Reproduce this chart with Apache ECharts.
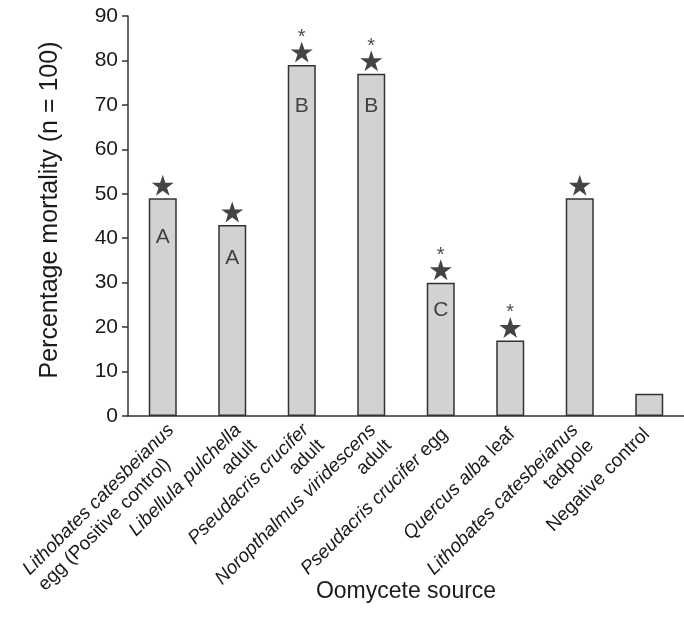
<!DOCTYPE html>
<html>
<head>
<meta charset="utf-8">
<title>Oomycete source mortality</title>
<script src="https://cdn.jsdelivr.net/npm/echarts@6/dist/echarts.min.js"></script>
<style>
  html, body { margin: 0; padding: 0; background: #fff; }
  #chart { width: 684px; height: 625px; }
</style>
</head>
<body>
<div id="chart"></div>
<script>
// species part (italic) and the plain part of each label
const speciesNames = ['Lithobates catesbeianus', 'Libellula pulchella', 'Pseudacris crucifer', 'Noropthalmus viridescens', 'Pseudacris crucifer', 'Quercus alba', 'Lithobates catesbeianus', '']
const plainNames = ['\negg (Positive control)', '\nadult', '\nadult', '\nadult', ' egg', ' leaf', '\ntadpole', 'Negative control']
const mortality = [49, 43, 79, 77, 30, 17, 49, 5]
const hasStar = [1, 1, 1, 1, 1, 1, 1, 0]
const hasAsterisk = [0, 0, 1, 1, 1, 1, 0, 0]
const groupLetters = ['A', 'A', 'B', 'B', 'C', '', '', '']
const letterPos = [40.3, 35.5, 69.8, 69.8, 23.9, null, null, null]
const yTicks = [0, 10, 20, 30, 40, 50, 60, 70, 80, 90]

const FONT = "'Liberation Sans', Arial, Helvetica, sans-serif"
const TEXT = '#1a1a1a'
const STAR = 'path://M50,0 L61.8,35.1 L98.9,35.1 L68.9,56.8 L80.3,91.9 L50,70.2 L19.7,91.9 L31.1,56.8 L1.1,35.1 L38.2,35.1 Z'

const categories = speciesNames.map((s, i) => s + plainNames[i])

function labelText(val, i) {
  // first label is left aligned in the original, the rest right aligned
  const suffix = i === 0 ? 'L' : ''
  const sp = speciesNames[i] ? '{i' + suffix + '|' + speciesNames[i] + '}' : ''
  const parts = plainNames[i].split('\n')
  if (parts.length > 1) return sp + '\n{n' + suffix + '|' + parts[1] + '}'
  // one-line labels get a short blank line so they sit like the others
  return sp + '{n|' + parts[0] + '}\n{gap| }'
}

const chart = echarts.init(document.getElementById('chart'))

const option = {
  animation: false,
  textStyle: { fontFamily: FONT },
  grid: [
    { left: 128, top: 16, width: 560, height: 400 },
    // second grid only carries the rotated category labels, nudged right
    { left: 145, top: 16, width: 560, height: 400 }
  ],
  xAxis: [
    {
      type: 'category',
      gridIndex: 0,
      data: categories,
      name: 'Oomycete source',
      nameLocation: 'middle',
      nameGap: 164,
      nameTextStyle: { fontSize: 23, color: TEXT, fontFamily: FONT },
      axisLine: { lineStyle: { color: '#333', width: 1.5 } },
      axisTick: { show: false },
      axisLabel: { show: false }
    },
    {
      type: 'category',
      gridIndex: 1,
      data: categories,
      axisLine: { show: false },
      axisTick: { show: false },
      axisLabel: {
        interval: 0,
        rotate: 45,
        margin: 19,
        formatter: labelText,
        rich: {
          i: { fontStyle: 'italic', fontSize: 19, color: TEXT, fontFamily: FONT, lineHeight: 22 },
          n: { fontSize: 19, color: TEXT, fontFamily: FONT, lineHeight: 22 },
          iL: { fontStyle: 'italic', fontSize: 19, color: TEXT, fontFamily: FONT, lineHeight: 22, align: 'left' },
          nL: { fontSize: 19, color: TEXT, fontFamily: FONT, lineHeight: 22, align: 'left' },
          gap: { fontSize: 6, lineHeight: 10 }
        }
      }
    }
  ],
  yAxis: [
    {
      type: 'value',
      gridIndex: 0,
      min: yTicks[0],
      max: yTicks[yTicks.length - 1],
      interval: 10,
      name: 'Percentage mortality (n = 100)',
      nameLocation: 'middle',
      nameGap: 65,
      nameTextStyle: { fontSize: 25, color: TEXT, fontFamily: FONT, padding: [0, 0, 0, 12] },
      axisLine: { show: true, lineStyle: { color: '#333', width: 1.5 } },
      axisTick: { show: true, length: 6, lineStyle: { color: '#333', width: 1.5 } },
      axisLabel: { fontSize: 21, color: TEXT, margin: 10 },
      splitLine: { show: false }
    },
    { type: 'value', gridIndex: 1, min: 0, max: 90, show: false }
  ],
  series: [
    {
      type: 'bar',
      xAxisIndex: 0,
      yAxisIndex: 0,
      data: mortality,
      barWidth: 28,
      itemStyle: { color: '#d1d2d4', borderColor: '#333', borderWidth: 1.5 },
      z: 2
    },
    {
      type: 'scatter',
      xAxisIndex: 0,
      yAxisIndex: 0,
      data: mortality.map((v, i) => (hasStar[i] ? v : null)),
      symbol: STAR,
      symbolSize: [22, 21],
      symbolOffset: [0, -13],
      itemStyle: { color: '#151515' },
      label: {
        show: true,
        position: 'top',
        distance: -6,
        fontSize: 20,
        color: TEXT,
        formatter: (p) => (hasAsterisk[p.dataIndex] ? '*' : '')
      },
      z: 3
    },
    {
      type: 'scatter',
      xAxisIndex: 0,
      yAxisIndex: 0,
      data: letterPos,
      symbolSize: 1,
      itemStyle: { color: 'rgba(0,0,0,0)' },
      label: {
        show: true,
        position: 'inside',
        fontSize: 21,
        color: TEXT,
        formatter: (p) => groupLetters[p.dataIndex]
      },
      z: 4
    }
  ]
}

chart.setOption(option)
window.addEventListener('resize', () => chart.resize())
</script>
</body>
</html>
